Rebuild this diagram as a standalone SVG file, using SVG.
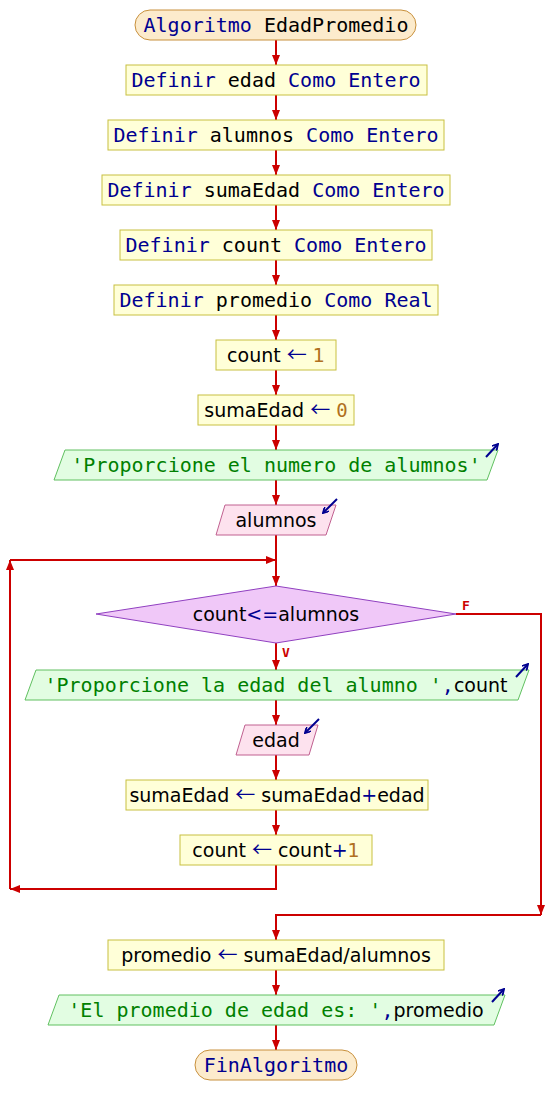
<svg xmlns="http://www.w3.org/2000/svg" width="552" height="1115" viewBox="0 0 552 1115">
<style>
.term{fill:#fcebcc;stroke:#c8903c;stroke-width:1}
.proc{fill:#ffffd8;stroke:#c8c040;stroke-width:1}
.out{fill:#e2fde2;stroke:#60c060;stroke-width:1}
.in{fill:#fde2ee;stroke:#c06090;stroke-width:1}
.dec{fill:#f0c8f8;stroke:#9040c0;stroke-width:1}
.ln{fill:none;stroke:#cc0000;stroke-width:2}
.ic{fill:none;stroke:#000090;stroke-width:2}
text{font-size:20px;text-anchor:middle;fill:#000000}
.m{font-family:"DejaVu Sans Mono","Liberation Mono",monospace}
.s{font-family:"DejaVu Sans","Liberation Sans",sans-serif;font-size:19px}
.k{fill:#000090}
.ar{fill:#000090;font-family:"Noto Sans CJK SC","DejaVu Sans",sans-serif;font-size:20px}
.v{fill:#000000}
.n{fill:#b07020}
.str{fill:#008000}
.lab{font-family:"DejaVu Sans Mono",monospace;font-size:13px;font-weight:bold;fill:#cc0000}
</style>
<defs>
<marker id="ah" markerWidth="10" markerHeight="8" refX="10" refY="4" orient="auto" markerUnits="userSpaceOnUse">
<path d="M0,0 L10,4 L0,8 z" fill="#cc0000"/>
</marker>
<marker id="ih" markerWidth="7" markerHeight="7" refX="6" refY="3.5" orient="auto" markerUnits="userSpaceOnUse">
<path d="M0,0 L6,3.5 L0,7" fill="none" stroke="#000090" stroke-width="1.8"/>
</marker>
</defs>

<g id="connectors">
<line class="ln" x1="276" y1="40" x2="276" y2="65" marker-end="url(#ah)"/>
<line class="ln" x1="276" y1="95" x2="276" y2="120" marker-end="url(#ah)"/>
<line class="ln" x1="276" y1="150" x2="276" y2="175" marker-end="url(#ah)"/>
<line class="ln" x1="276" y1="205" x2="276" y2="230" marker-end="url(#ah)"/>
<line class="ln" x1="276" y1="260" x2="276" y2="285" marker-end="url(#ah)"/>
<line class="ln" x1="276" y1="315" x2="276" y2="340" marker-end="url(#ah)"/>
<line class="ln" x1="276" y1="370" x2="276" y2="395" marker-end="url(#ah)"/>
<line class="ln" x1="276" y1="425" x2="276" y2="450" marker-end="url(#ah)"/>
<line class="ln" x1="276" y1="480" x2="276" y2="505" marker-end="url(#ah)"/>
<line class="ln" x1="276" y1="535" x2="276" y2="586" marker-end="url(#ah)"/>
<line class="ln" x1="276" y1="643" x2="276" y2="670" marker-end="url(#ah)"/>
<line class="ln" x1="276" y1="700" x2="276" y2="725" marker-end="url(#ah)"/>
<line class="ln" x1="276" y1="755" x2="276" y2="780" marker-end="url(#ah)"/>
<line class="ln" x1="276" y1="810" x2="276" y2="835" marker-end="url(#ah)"/>
<polyline class="ln" points="276,865 276,889 10,889" marker-end="url(#ah)"/>
<line class="ln" x1="10" y1="889" x2="10" y2="560" marker-end="url(#ah)"/>
<line class="ln" x1="10" y1="560" x2="276" y2="560" marker-end="url(#ah)"/>
<polyline class="ln" points="456,614 541,614 541,915" marker-end="url(#ah)"/>
<polyline class="ln" points="541,915 276,915 276,940" marker-end="url(#ah)"/>
<line class="ln" x1="276" y1="970" x2="276" y2="995" marker-end="url(#ah)"/>
<line class="ln" x1="276" y1="1025" x2="276" y2="1050" marker-end="url(#ah)"/>
<text class="lab" x="466" y="610">F</text>
<text class="lab" x="286" y="657">V</text>
</g>

<g id="start">
<rect class="term" x="135" y="10" width="281" height="30" rx="15"/>
<text class="m" x="276" y="32"><tspan class="k">Algoritmo</tspan> <tspan class="v">EdadPromedio</tspan></text>
</g>
<g id="def-edad">
<rect class="proc" x="126" y="65" width="301" height="30"/>
<text class="m" x="276" y="87"><tspan class="k">Definir</tspan> <tspan class="v">edad</tspan> <tspan class="k">Como Entero</tspan></text>
</g>
<g id="def-alumnos">
<rect class="proc" x="108" y="120" width="336" height="30"/>
<text class="m" x="276" y="142"><tspan class="k">Definir</tspan> <tspan class="v">alumnos</tspan> <tspan class="k">Como Entero</tspan></text>
</g>
<g id="def-sumaEdad">
<rect class="proc" x="102" y="175" width="348" height="30"/>
<text class="m" x="276" y="197"><tspan class="k">Definir</tspan> <tspan class="v">sumaEdad</tspan> <tspan class="k">Como Entero</tspan></text>
</g>
<g id="def-count">
<rect class="proc" x="120" y="230" width="312" height="30"/>
<text class="m" x="276" y="252"><tspan class="k">Definir</tspan> <tspan class="v">count</tspan> <tspan class="k">Como Entero</tspan></text>
</g>
<g id="def-promedio">
<rect class="proc" x="114" y="285" width="324" height="30"/>
<text class="m" x="276" y="307"><tspan class="k">Definir</tspan> <tspan class="v">promedio</tspan> <tspan class="k">Como Real</tspan></text>
</g>
<g id="count-init">
<rect class="proc" x="216" y="340" width="120" height="30"/>
<text class="s" x="276" y="362">count <tspan class="ar">←</tspan> <tspan class="n">1</tspan></text>
</g>
<g id="suma-init">
<rect class="proc" x="198" y="395" width="156" height="30"/>
<text class="s" x="276" y="417">sumaEdad <tspan class="ar">←</tspan> <tspan class="n m">0</tspan></text>
</g>
<g id="out-alumnos">
<polygon class="out" points="65,450 498,450 487,480 54,480"/>
<text class="m" x="276" y="472"><tspan class="str">'Proporcione el numero de alumnos'</tspan></text>
<line class="ic" x1="486" y1="457" x2="498" y2="444" marker-end="url(#ih)"/>
</g>
<g id="in-alumnos">
<polygon class="in" points="225,505 336,505 326,535 216,535"/>
<text class="s" x="276" y="527">alumnos</text>
<line class="ic" x1="337" y1="499" x2="323" y2="513" marker-end="url(#ih)"/>
</g>
<g id="cond">
<polygon class="dec" points="276,586 456,614 276,643 96,614"/>
<text class="s" x="276" y="621">count<tspan class="k">&lt;=</tspan>alumnos</text>
</g>
<g id="out-edad">
<polygon class="out" points="36,670 529,670 518,700 25,700"/>
<text class="m" x="276" y="692"><tspan class="str">'Proporcione la edad del alumno '</tspan><tspan class="k">,</tspan><tspan class="s v">count</tspan></text>
<line class="ic" x1="516" y1="677" x2="528" y2="664" marker-end="url(#ih)"/>
</g>
<g id="in-edad">
<polygon class="in" points="245,725 318,725 309,755 236,755"/>
<text class="s" x="276" y="747">edad</text>
<line class="ic" x1="319" y1="719" x2="305" y2="733" marker-end="url(#ih)"/>
</g>
<g id="suma-acc">
<rect class="proc" x="126" y="780" width="302" height="30"/>
<text class="s" x="277" y="802">sumaEdad <tspan class="ar">←</tspan> sumaEdad<tspan class="k">+</tspan>edad</text>
</g>
<g id="count-inc">
<rect class="proc" x="180" y="835" width="192" height="30"/>
<text class="s" x="276" y="857">count <tspan class="ar">←</tspan> count<tspan class="k">+</tspan><tspan class="n">1</tspan></text>
</g>
<g id="promedio-calc">
<rect class="proc" x="108" y="940" width="336" height="30"/>
<text class="s" x="276" y="962">promedio <tspan class="ar">←</tspan> sumaEdad/alumnos</text>
</g>
<g id="out-promedio">
<polygon class="out" points="59,995 505,995 494,1025 48,1025"/>
<text class="m" x="276" y="1017"><tspan class="str">'El promedio de edad es: '</tspan><tspan class="k">,</tspan><tspan class="s v">promedio</tspan></text>
<line class="ic" x1="492" y1="1002" x2="504" y2="989" marker-end="url(#ih)"/>
</g>
<g id="end">
<rect class="term" x="195" y="1050" width="162" height="30" rx="15"/>
<text class="m" x="276" y="1072"><tspan class="k">FinAlgoritmo</tspan></text>
</g>
</svg>
